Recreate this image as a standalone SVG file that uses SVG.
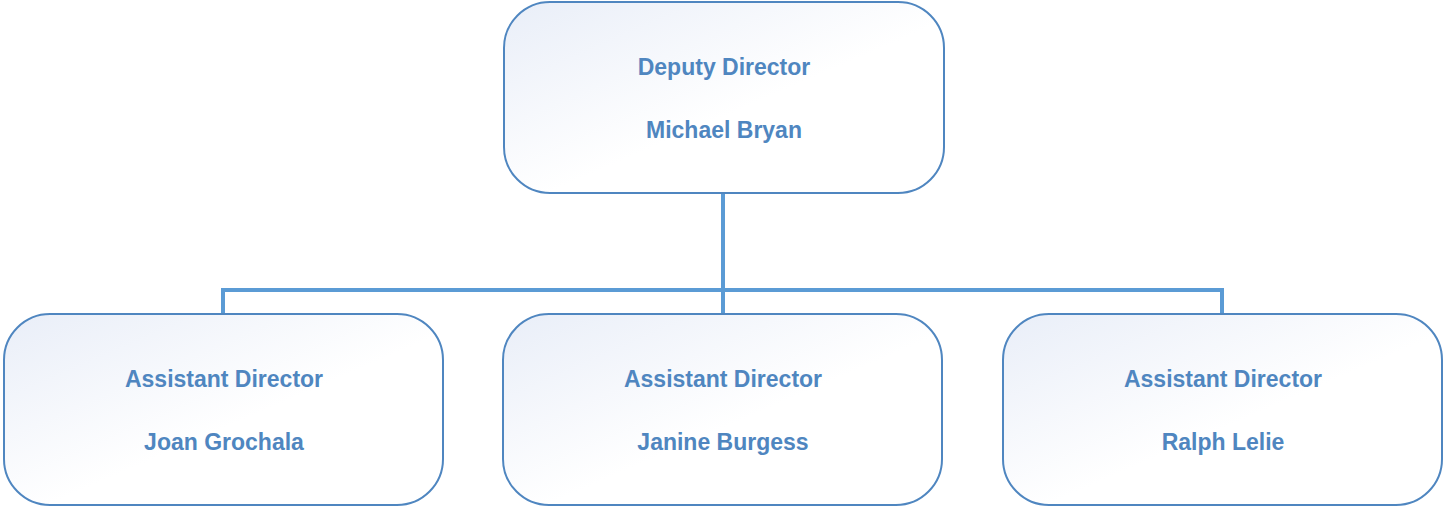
<svg xmlns="http://www.w3.org/2000/svg" width="1445" height="506" viewBox="0 0 1445 506">
<defs>
<linearGradient id="g" x1="0" y1="0" x2="1" y2="1">
<stop offset="0" stop-color="#e9eef8"/>
<stop offset="0.55" stop-color="#ffffff"/>
<stop offset="1" stop-color="#ffffff"/>
</linearGradient>
<style>
.box{fill:url(#g);stroke:#4f86c0;stroke-width:2}
.t{font-family:"Liberation Sans",Arial,sans-serif;font-weight:bold;font-size:23px;fill:#4f86c0;text-anchor:middle}
.c{fill:none;stroke:#5b9bd5;stroke-width:4}
</style>
</defs>
<g id="connectors">
<path class="c" d="M723 193V290M223 314V290H1222V314M723 290V314"/>
</g>
<g id="n0">
<rect class="box" x="504" y="2" width="440" height="191" rx="46"/>
<text class="t" x="724" y="75">Deputy Director</text>
<text class="t" x="724" y="138">Michael Bryan</text>
</g>
<g id="n1">
<rect class="box" x="4" y="314" width="439" height="191" rx="46"/>
<text class="t" x="224" y="387">Assistant Director</text>
<text class="t" x="224" y="450">Joan Grochala</text>
</g>
<g id="n2">
<rect class="box" x="503" y="314" width="439" height="191" rx="46"/>
<text class="t" x="723" y="387">Assistant Director</text>
<text class="t" x="723" y="450">Janine Burgess</text>
</g>
<g id="n3">
<rect class="box" x="1003" y="314" width="439" height="191" rx="46"/>
<text class="t" x="1223" y="387">Assistant Director</text>
<text class="t" x="1223" y="450">Ralph Lelie</text>
</g>
</svg>
